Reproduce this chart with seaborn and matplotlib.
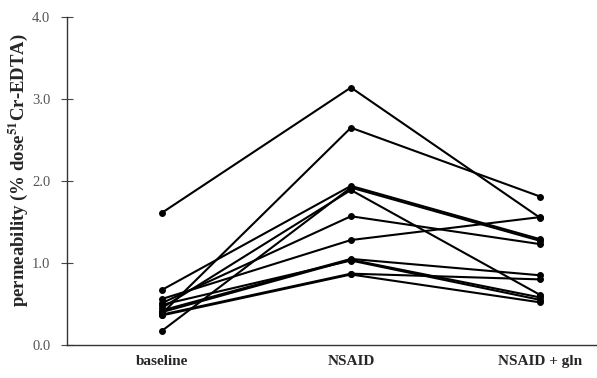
import pandas as pd
import matplotlib.pyplot as plt
import seaborn as sns

# === Data ===
conditions = ["baseline", "NSAID", "NSAID + gln"]
baseline = [1.61, 0.38, 0.67, 0.17, 0.45, 0.51, 0.56, 0.42, 0.40, 0.49, 0.37, 0.36]
nsaid = [3.14, 2.65, 1.94, 1.92, 1.89, 1.57, 1.28, 1.05, 1.04, 1.03, 0.87, 0.86]
nsaid_gln = [1.55, 1.81, 1.29, 1.27, 0.61, 1.23, 1.56, 0.85, 0.58, 0.55, 0.80, 0.52]
yticks = [0.0, 1.0, 2.0, 3.0, 4.0]

# === Long format table ===
rows = []
for i, vals in enumerate(zip(baseline, nsaid, nsaid_gln)):
    for cond, v in zip(conditions, vals):
        rows.append({"subject": i, "condition": cond, "value": v})
df = pd.DataFrame(rows)

sns.set_style("ticks")
plt.rcParams["font.family"] = ["Liberation Serif", "DejaVu Serif"]
plt.rcParams["mathtext.fontset"] = "stix"

fig = plt.figure(figsize=(5.97, 3.78), dpi=100)
ax = fig.add_axes([67 / 597, 1 - 345 / 378, 1 - 67 / 597, (345 - 17) / 378])

sns.lineplot(data=df, x="condition", y="value", units="subject", estimator=None,
             color="black", linewidth=1.5, marker="o", markersize=4.2,
             markeredgecolor="black", sort=False, ax=ax)

ax.set_xlim(-0.5, 2.3)
ax.set_ylim(0, 4)
ax.set_yticks(yticks)
ax.set_yticklabels([f"{t:.1f}" for t in yticks], fontsize=10.5, color="#555555")
ax.tick_params(axis="y", direction="inout", length=8, width=0.8, color="#444444", pad=8)
ax.set_xticks(range(len(conditions)))
ax.set_xticklabels(conditions, fontsize=11, fontweight="bold")
ax.tick_params(axis="x", length=0, pad=7)

ax.set_xlabel("")
ax.set_ylabel(r"permeability (% dose$^{\mathbf{51}}$Cr-EDTA)", fontsize=13.5,
              fontweight="bold")
ax.yaxis.set_label_coords(-0.070, 0.534)

sns.despine(ax=ax)
ax.spines["left"].set_color("#333333")
ax.spines["bottom"].set_color("#333333")
ax.spines["left"].set_linewidth(1.0)
ax.spines["bottom"].set_linewidth(1.0)

plt.savefig("out.png", dpi=100)
plt.close()
